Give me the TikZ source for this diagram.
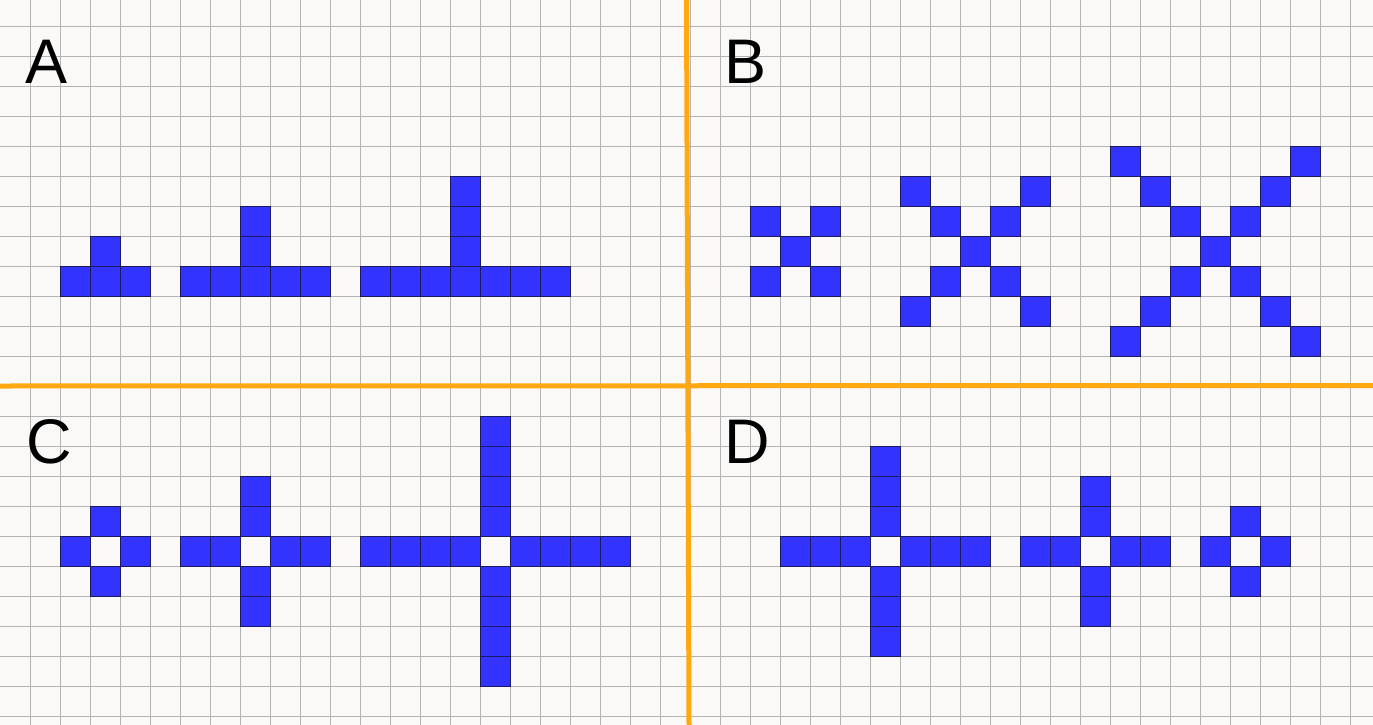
\documentclass[tikz,border=0pt]{standalone}
\usepackage{fontspec}
\setmainfont{Liberation Sans}
\definecolor{paper}{HTML}{FAF9F7}
\definecolor{gridline}{HTML}{B4B4B4}
\definecolor{cellblue}{HTML}{3333FF}
\definecolor{celledge}{HTML}{1A1A5C}
\definecolor{split}{HTML}{FFA811}
% one grid square, column #1 and row #2
\newcommand{\cell}[2]{\draw[cell] ({30*(#1)},{26+30*(#2)}) rectangle ++(30,30);}
% T, X and + shapes round a centre square, arms of length #3
\newcommand{\teeat}[3]{%
  \foreach \k in {-#3,...,#3} {\cell{#1+\k}{#2}}
  \foreach \k in {1,...,#3} {\cell{#1}{#2-\k}}}
\newcommand{\crossat}[3]{%
  \cell{#1}{#2}
  \foreach \k in {1,...,#3} {\cell{#1-\k}{#2-\k}\cell{#1+\k}{#2-\k}
    \cell{#1-\k}{#2+\k}\cell{#1+\k}{#2+\k}}}
\newcommand{\plusat}[3]{%
  \foreach \k in {1,...,#3} {\cell{#1-\k}{#2}\cell{#1+\k}{#2}
    \cell{#1}{#2-\k}\cell{#1}{#2+\k}}}

\begin{document}
\begin{tikzpicture}[x=1pt,y=-1pt,
  cell/.style={fill=cellblue,draw=celledge,line width=0.8pt},
  gridl/.style={draw=gridline,line width=0.8pt},
  splitl/.style={draw=split,line width=5pt},
  tag/.style={font=\fontsize{63}{63}\selectfont,anchor=base west,inner sep=0pt}
]
\fill[paper] (0,0) rectangle (1373,725);
\useasboundingbox (0,0) rectangle (1373,725);
\foreach \i in {1,...,45} \draw[gridl] (30*\i,0) -- (30*\i,725);
\foreach \j in {0,...,23} \draw[gridl] (0,26+30*\j) -- (1373,26+30*\j);
\draw[splitl] (686.5,0) -- (689,725);
\draw[splitl] (0,386) -- (1373,385.5);

% A
\teeat{3}{8}{1}
\teeat{8}{8}{2}
\teeat{15}{8}{3}
% B
\crossat{26}{7}{1}
\crossat{32}{7}{2}
\crossat{40}{7}{3}
% C
\plusat{3}{17}{1}
\plusat{8}{17}{2}
\plusat{16}{17}{4}
% D
\plusat{29}{17}{3}
\plusat{36}{17}{2}
\plusat{41}{17}{1}

\node[tag] (labA) at (25,83) {A};
\node[tag] (labB) at (724,83) {B};
\node[tag] (labC) at (26,463) {C};
\node[tag] (labD) at (724,463) {D};
\end{tikzpicture}
\end{document}
